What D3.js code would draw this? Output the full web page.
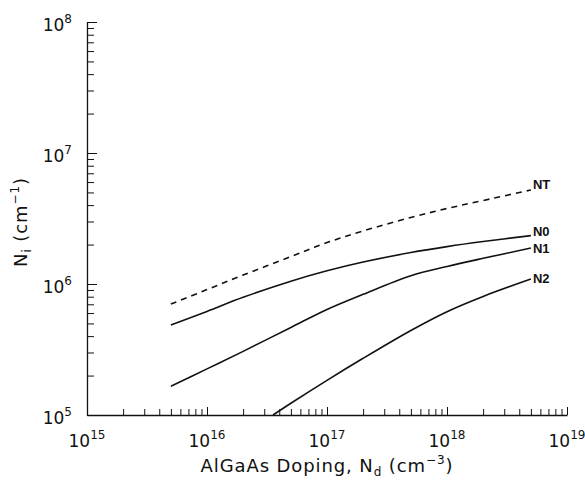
<!DOCTYPE html>
<html><head><meta charset="utf-8">
<script src="https://cdn.jsdelivr.net/npm/d3@7"></script>
<style>body{margin:0;background:#fff}svg{display:block}text{font-family:"DejaVu Sans","Liberation Sans",Arial,sans-serif;fill:#111}</style>
</head><body><svg id="c" width="585" height="485"></svg>
<script>
const xDoping = [5e15, 1e16, 2e16, 5e16, 1e17, 2e17, 5e17, 1e18, 2e18, 5e18];
const NT = [7.03e5, 9.06e5, 1.17e6, 1.62e6, 2.07e6, 2.54e6, 3.22e6, 3.77e6, 4.34e6, 5.22e6];
const N0 = [4.86e5, 6.18e5, 7.91e5, 1.05e6, 1.26e6, 1.47e6, 1.74e6, 1.93e6, 2.11e6, 2.34e6];
const N1 = [1.66e5, 2.25e5, 3.06e5, 4.66e5, 6.39e5, 8.34e5, 1.156e6, 1.36e6, 1.57e6, 1.88e6];
const xN2 = [3.55e16, 5e16, 1e17, 2e17, 5e17, 1e18, 2e18, 5e18];
const N2 = [1.0e5, 1.23e5, 1.84e5, 2.71e5, 4.42e5, 6.15e5, 8.04e5, 1.09e6];
const seriesNames = ["NT", "N0", "N1", "N2"];
const xExps = [15, 16, 17, 18, 19];
const yExps = [5, 6, 7, 8];

const svg = d3.select("#c");
const x = d3.scaleLog().domain([1e15, 1e19]).range([87, 567]);
const y = d3.scaleLog().domain([1e5, 1e8]).range([415, 22]);

const isMajor = v => Math.abs(Math.log10(v) - Math.round(Math.log10(v))) < 1e-9;

function allTicks(lo, hi) {
  const t = [];
  for (let e = lo; e <= hi; e++) for (let m = 1; m <= 9; m++) { if (e === hi && m > 1) break; t.push(m * Math.pow(10, e)); }
  return t;
}

const gx = svg.append("g").attr("transform", "translate(0,415)")
  .call(d3.axisBottom(x).tickValues(allTicks(15, 19)).tickFormat("").tickSizeInner(-6).tickSizeOuter(0));
const gy = svg.append("g").attr("transform", "translate(87,0)")
  .call(d3.axisLeft(y).tickValues(allTicks(5, 8)).tickFormat("").tickSizeInner(-7).tickSizeOuter(0));
[gx, gy].forEach(g => { g.select(".domain").attr("stroke", "#111").attr("stroke-width", 1.3); g.selectAll(".tick line").attr("stroke", "#111").attr("stroke-width", 1); });
gx.selectAll(".tick").filter(d => isMajor(d)).select("line").attr("y2", -8);
gy.selectAll(".tick").filter(d => isMajor(d)).select("line").attr("x2", 10);

// x tick labels
xExps.forEach(e => {
  const t = svg.append("text").attr("x", x(Math.pow(10, e))).attr("y", 447).attr("text-anchor", "middle").style("font-size", "17px");
  t.append("tspan").text("10");
  t.append("tspan").attr("dy", -8).style("font-size", "12px").text(e);
});
// y tick labels
yExps.forEach(e => {
  const t = svg.append("text").attr("x", 72).attr("y", y(Math.pow(10, e)) + 9).attr("text-anchor", "end").style("font-size", "17px");
  t.append("tspan").text("10");
  t.append("tspan").attr("dy", -8).style("font-size", "12px").text(e);
});

// axis titles
const xt = svg.append("text").attr("x", 327).attr("y", 472).attr("text-anchor", "middle").style("font-size", "18px").style("letter-spacing", "0.9px");
xt.append("tspan").text("AlGaAs Doping, N");
xt.append("tspan").attr("dy", 4).style("font-size", "12px").text("d");
xt.append("tspan").attr("dy", -4).text(" (cm");
xt.append("tspan").attr("dy", -8).style("font-size", "12px").text("\u22123");
xt.append("tspan").attr("dy", 8).text(")");

const yt = svg.append("text").attr("transform", "translate(27,222) rotate(-90)").attr("text-anchor", "middle").style("font-size", "18px").style("letter-spacing", "0.9px");
yt.append("tspan").text("N");
yt.append("tspan").attr("dy", 4).style("font-size", "12px").text("i");
yt.append("tspan").attr("dy", -4).text(" (cm");
yt.append("tspan").attr("dy", -8).style("font-size", "12px").text("\u22121");
yt.append("tspan").attr("dy", 8).text(")");

// curves
const line = d3.line().x(d => x(d[0])).y(d => y(d[1])).curve(d3.curveCatmullRom.alpha(0.5));
const series = [
  {name: seriesNames[0], xs: xDoping, ys: NT, dash: "6,5"},
  {name: seriesNames[1], xs: xDoping, ys: N0, dash: null},
  {name: seriesNames[2], xs: xDoping, ys: N1, dash: null},
  {name: seriesNames[3], xs: xN2, ys: N2, dash: null}
];
const labelDy = {NT: -6, N0: -4, N1: 0, N2: -1};
series.forEach(s => {
  const pts = s.xs.map((v, i) => [v, s.ys[i]]);
  svg.append("path").datum(pts).attr("d", line).attr("fill", "none").attr("stroke", "#111")
    .attr("stroke-width", 1.6).attr("stroke-dasharray", s.dash);
  const last = pts[pts.length - 1];
  svg.append("text").attr("x", x(last[0]) + 2).attr("y", y(last[1]) + labelDy[s.name]).attr("dy", "0.35em")
    .style("font-family", "'Liberation Sans',Arial,sans-serif")
    .style("font-size", "13px").style("font-weight", "bold").text(s.name);
});
</script></body></html>
